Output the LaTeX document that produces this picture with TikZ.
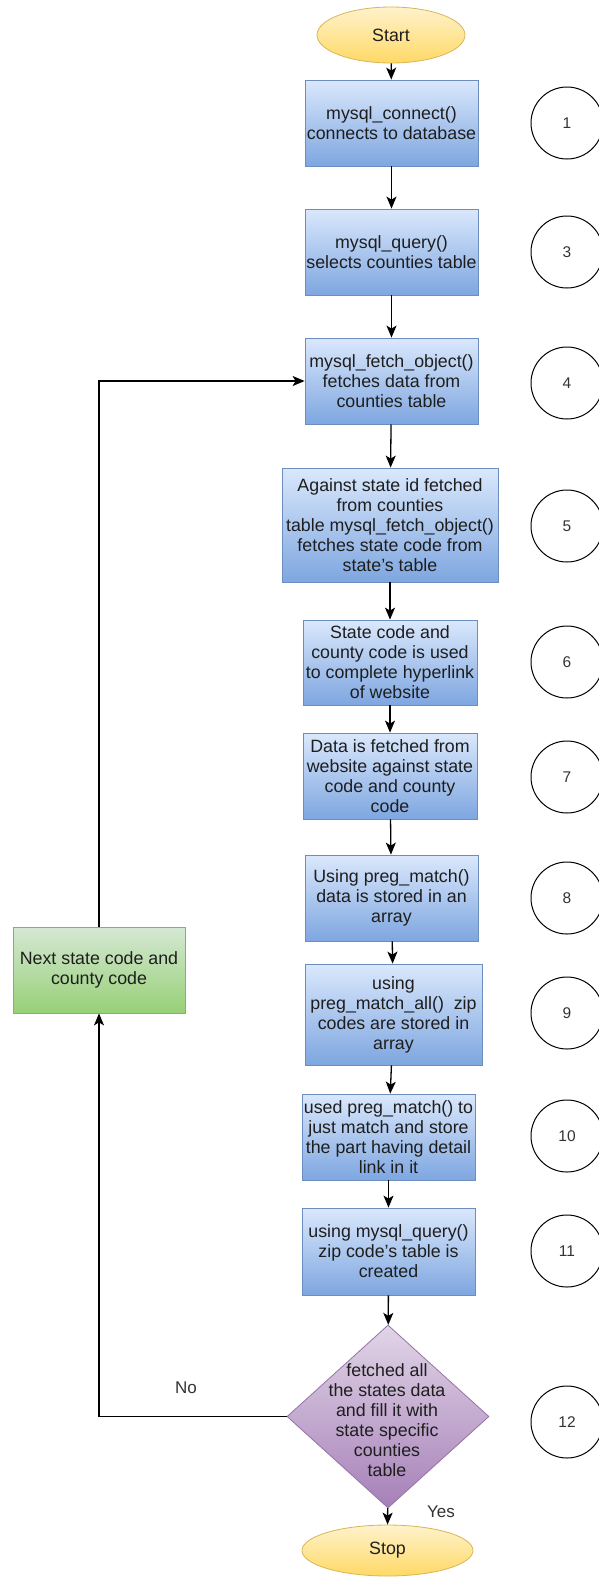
\documentclass[tikz,border=0pt]{standalone}
\usepackage{fontspec}
\setmainfont{Liberation Sans}
\usetikzlibrary{shapes.geometric,arrows.meta}

\definecolor{bluetop}{HTML}{DAE8FC}
\definecolor{bluebot}{HTML}{7EA6E0}
\definecolor{bluestroke}{HTML}{6C8EBF}
\definecolor{greentop}{HTML}{D5E8D4}
\definecolor{greenbot}{HTML}{97D077}
\definecolor{greenstroke}{HTML}{82B366}
\definecolor{purpletop}{HTML}{E1D5E7}
\definecolor{purplebot}{HTML}{A680B8}
\definecolor{purplestroke}{HTML}{9673A6}
\definecolor{yellowtop}{HTML}{FFF2CC}
\definecolor{yellowbot}{HTML}{FFD966}
\definecolor{yellowstroke}{HTML}{D6B656}
\definecolor{inktext}{HTML}{1E1E1E}
\definecolor{numtext}{HTML}{333333}

\tikzset{
  labeltext/.style={font=\fontsize{17.8}{20}\selectfont, text=inktext, align=center, inner sep=0pt},
  procbox/.style={labeltext, rectangle, draw=bluestroke, line width=0.8pt,
    top color=bluetop, bottom color=bluebot},
  loopbox/.style={labeltext, rectangle, draw=greenstroke, line width=0.8pt,
    top color=greentop, bottom color=greenbot},
  terminal/.style={labeltext, ellipse, draw=yellowstroke, line width=0.8pt,
    top color=yellowtop, bottom color=yellowbot},
  decision/.style={diamond, draw=purplestroke, line width=0.8pt,
    top color=purpletop, bottom color=purplebot, inner sep=0pt},
  stepnum/.style={circle, draw=black, line width=1pt, fill=white,
    minimum size=72pt, inner sep=0pt, font=\fontsize{15.5}{18}\selectfont, text=numtext},
  flow/.style={draw=black, line width=1.3pt, -{Stealth[length=12pt,width=10pt,inset=3pt]}},
  edgetext/.style={font=\fontsize{17}{20}\selectfont, text=numtext, inner sep=0pt}
}

\begin{document}
\begin{tikzpicture}[x=1pt,y=-1pt]
\useasboundingbox (0,0) rectangle (598,1577);

% terminals
\node[terminal, minimum width=148pt, minimum height=56pt] (start) at (391,35) {Start};
\node[terminal, minimum width=171pt, minimum height=51pt] (stop) at (387.5,1550.5) {Stop};

% process steps
\node[procbox, minimum width=173pt, minimum height=86pt] (b1) at (391.5,123)
  {mysql\_connect()\\connects to database};
\node[procbox, minimum width=173pt, minimum height=86pt] (b3) at (391.5,252)
  {mysql\_query()\\selects counties table};
\node[procbox, minimum width=173pt, minimum height=86pt] (b4) at (391.5,381)
  {mysql\_fetch\_object()\\fetches data from\\counties table};
\node[procbox, minimum width=216pt, minimum height=114pt] (b5) at (390,525)
  {Against state id fetched\\from counties\\table mysql\_fetch\_object()\\fetches state code from\\state's table};
\node[procbox, minimum width=174pt, minimum height=85pt] (b6) at (390,662.5)
  {State code and\\county code is used\\to complete hyperlink\\of website};
\node[procbox, minimum width=174pt, minimum height=86pt] (b7) at (390,776)
  {Data is fetched from\\website against state\\code and county\\code};
\node[procbox, minimum width=173pt, minimum height=86pt] (b8) at (391.5,898)
  {Using preg\_match()\\data is stored in an\\array};
\node[procbox, minimum width=177pt, minimum height=101pt] (b9) at (393.5,1014.5)
  {using\\preg\_match\_all()\ \ zip\\codes are stored in\\array};
\node[procbox, minimum width=173pt, minimum height=86pt] (b10) at (388.5,1137)
  {used preg\_match() to\\just match and store\\the part having detail\\link in it};
\node[procbox, minimum width=173pt, minimum height=87pt] (b11) at (388.5,1251.5)
  {using mysql\_query()\\zip code's table is\\created};

% decision
\node[decision, minimum width=202pt, minimum height=183pt] (dia) at (388,1416.5) {};
\node[labeltext] (diatext) at (387,1420)
  {fetched all\\the states data\\and fill it with\\state specific\\counties\\table};

% loop-back step
\node[loopbox, minimum width=172pt, minimum height=86pt] (next) at (99,970)
  {Next state code and\\county code};

% step numbers
\node[stepnum] (n1) at (567,123) {1};
\node[stepnum] (n3) at (567,252) {3};
\node[stepnum] (n4) at (567,383) {4};
\node[stepnum] (n5) at (567,526) {5};
\node[stepnum] (n6) at (567,662) {6};
\node[stepnum] (n7) at (567,777) {7};
\node[stepnum] (n8) at (567,898) {8};
\node[stepnum] (n9) at (567,1013) {9};
\node[stepnum] (n10) at (567,1136) {10};
\node[stepnum] (n11) at (567,1251) {11};
\node[stepnum] (n12) at (567,1422) {12};

% main flow
\draw[flow] (start) -- (b1);
\draw[flow] (b1) -- (b3);
\draw[flow] (b3) -- (b4);
\draw[flow] (b4) -- (b5);
\draw[flow] (b5) -- (b6);
\draw[flow] (b6) -- (b7);
\draw[flow] (b7) -- (b8);
\draw[flow] (b8) -- (b9);
\draw[flow] (b9) -- (b10);
\draw[flow] (b10) -- (b11);
\draw[flow] (b11) -- (dia);
\draw[flow] (dia) -- (stop);

% loop back
\draw[flow] (dia.west) -| (next.south);
\draw[flow] (next.north) |- (b4.west);

% branch labels
\node[edgetext] (nolabel) at (186,1388) {No};
\node[edgetext] (yeslabel) at (441,1512) {Yes};

\end{tikzpicture}
\end{document}
